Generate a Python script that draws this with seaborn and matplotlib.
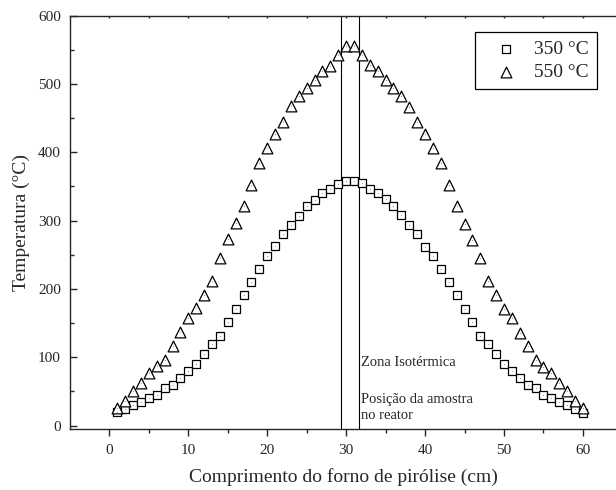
import numpy as np
import pandas as pd
import matplotlib
matplotlib.use("Agg")
import matplotlib.pyplot as plt
import seaborn as sns

# ---- data ----
posicao_cm = list(range(1, 61))
temp_350 = [20, 24, 30, 35, 40, 45, 55, 60, 70, 80,
            90, 105, 120, 131, 151, 170, 191, 210, 229, 248,
            263, 280, 294, 307, 321, 330, 340, 347, 354, 358,
            358, 355, 346, 340, 331, 321, 308, 294, 280, 262,
            248, 229, 210, 191, 170, 151, 131, 120, 105, 90,
            80, 70, 60, 55, 45, 40, 35, 30, 24, 19]
temp_550 = [26, 36, 51, 62, 77, 87, 96, 117, 137, 157,
            172, 191, 212, 246, 273, 296, 322, 352, 385, 406,
            427, 445, 468, 483, 494, 506, 519, 527, 542, 556,
            556, 542, 528, 519, 506, 494, 483, 467, 445, 427,
            406, 385, 352, 322, 295, 272, 246, 212, 191, 171,
            157, 136, 117, 96, 86, 77, 62, 51, 36, 26]
series_labels = ["350 °C", "550 °C"]
zona_limites = [29.4, 31.6]
x_ticks = [0, 10, 20, 30, 40, 50, 60]
y_ticks = [0, 100, 200, 300, 400, 500, 600]

df = pd.DataFrame({
    "x": posicao_cm * 2,
    "T": temp_350 + temp_550,
    "serie": [series_labels[0]] * len(temp_350) + [series_labels[1]] * len(temp_550),
})

sns.set_style("ticks")
plt.rcParams["font.family"] = ["Liberation Serif", "DejaVu Serif"]

fig = plt.figure(figsize=(6.16, 4.9), dpi=100)
ax = fig.add_axes([70 / 616, 61 / 490, 546 / 616, 413.3 / 490])

d350 = df[df.serie == series_labels[0]]
d550 = df[df.serie == series_labels[1]]
sns.scatterplot(data=d350, x="x", y="T", marker="s",
                s=26, facecolor="white", edgecolor="black", linewidth=0.9,
                label=series_labels[0], ax=ax, zorder=3)
sns.scatterplot(data=d550, x="x", y="T", marker="^",
                s=60, facecolor="white", edgecolor="black", linewidth=0.9,
                label=series_labels[1], ax=ax, zorder=3)
# small centre dots, as in the original markers
sns.scatterplot(data=df, x="x", y="T", marker="o", s=0.6, color="#888888",
                linewidth=0, ax=ax, zorder=4, legend=False)

for xv in zona_limites:
    ax.axvline(xv, color="black", lw=0.8, zorder=2)

ax.text(31.9, 93, "Zona Isotérmica", fontsize=10.5, va="center", ha="left")
ax.text(31.9, 26.2, "Posição da amostra\nno reator", fontsize=10.5, va="center",
        ha="left", linespacing=1.35)

ax.set_xlim(-5, 64.2)
ax.set_ylim(-5, 600)
ax.set_xticks(x_ticks)
ax.set_yticks(y_ticks)
ax.set_xticks(np.arange(5, 65, 10), minor=True)
ax.set_yticks(np.arange(50, 600, 100), minor=True)

ax.spines["right"].set_visible(False)
for s in ["left", "bottom", "top"]:
    ax.spines[s].set_linewidth(1.0)

ax.tick_params(axis="x", which="major", direction="out", length=5, width=1.0,
               labelsize=11, pad=6)
ax.tick_params(axis="x", which="minor", direction="out", length=3, width=1.0)
ax.tick_params(axis="x", which="both", top=True)
ax.tick_params(axis="y", which="major", direction="in", length=5, width=1.0,
               labelsize=11, pad=6.5)
ax.tick_params(axis="y", which="minor", direction="in", length=3, width=1.0)
for t in ax.xaxis.get_major_ticks() + ax.xaxis.get_minor_ticks():
    t.tick2line.set_markersize(1.5)
    t.tick2line.set_marker(matplotlib.lines.TICKDOWN)

ax.set_xlabel("Comprimento do forno de pirólise (cm)", fontsize=14, labelpad=8)
ax.set_ylabel("Temperatura (°C)", fontsize=14, labelpad=6)

leg = ax.legend(loc="upper right", bbox_to_anchor=(596.7 / 616, (490 - 32.3) / 490),
                bbox_transform=fig.transFigure, borderaxespad=0, fontsize=14,
                frameon=True, fancybox=False, edgecolor="black", framealpha=1,
                handlelength=2.4, handletextpad=0.25, borderpad=0.4,
                labelspacing=0.3)
leg.get_frame().set_linewidth(0.9)

fig.savefig("out.png", dpi=100)
